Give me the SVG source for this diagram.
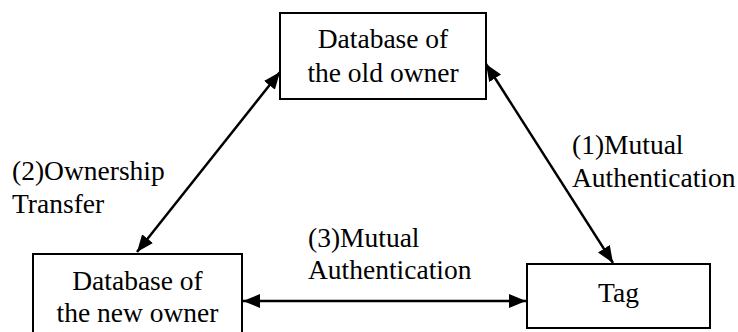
<svg xmlns="http://www.w3.org/2000/svg" width="738" height="332" viewBox="0 0 738 332">
<style>
.box{fill:#fff;stroke:#000;stroke-width:2}
.t{font-family:'Liberation Serif','Times New Roman',Tinos,'DejaVu Serif',serif;font-size:27.5px;fill:#000}
.c{text-anchor:middle}
.ln{stroke:#000;stroke-width:2.5;fill:none;marker-start:url(#ah);marker-end:url(#ah)}
</style>
<defs>
<marker id="ah" markerUnits="userSpaceOnUse" markerWidth="18" markerHeight="14" refX="17" refY="7" orient="auto-start-reverse">
<path d="M0,0 L17,7 L0,14 z" fill="#000"/>
</marker>
</defs>
<rect width="738" height="332" fill="#fff"/>
<g id="connectors">
<line class="ln" x1="137" y1="252" x2="280" y2="72"/>
<line class="ln" x1="486" y1="64" x2="613" y2="263"/>
<line class="ln" x1="243" y1="301" x2="526" y2="301"/>
</g>
<g id="old-owner">
<rect class="box" x="280" y="13" width="206" height="86"/>
<text class="t c" x="383" y="48">Database of</text>
<text class="t c" x="383" y="82">the old owner</text>
</g>
<g id="new-owner">
<rect class="box" x="33" y="254" width="209" height="92"/>
<text class="t c" x="137.5" y="290">Database of</text>
<text class="t c" x="137.5" y="322">the new owner</text>
</g>
<g id="tag">
<rect class="box" x="527" y="264" width="183" height="64"/>
<text class="t c" x="618.5" y="302">Tag</text>
</g>
<g id="labels">
<text class="t" x="12" y="180">(2)Ownership</text>
<text class="t" x="12" y="213">Transfer</text>
<text class="t" x="308" y="247">(3)Mutual</text>
<text class="t" x="308" y="279">Authentication</text>
<text class="t" x="572" y="154">(1)Mutual</text>
<text class="t" x="572" y="187">Authentication</text>
</g>
</svg>
